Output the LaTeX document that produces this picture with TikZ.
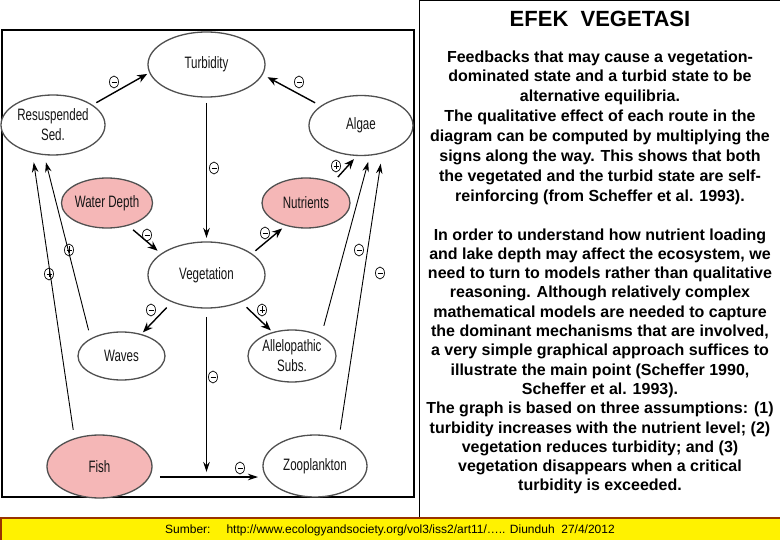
\documentclass[tikz,border=0pt]{standalone}
\usepackage{fontspec}
\setmainfont{Liberation Sans}
\newfontfamily\narrowfont[FakeStretch=0.7]{Liberation Sans}
\usetikzlibrary{shapes.geometric,arrows.meta}
\definecolor{edgegray}{RGB}{80,80,80}
\definecolor{labelgray}{RGB}{20,20,20}
\definecolor{pinkfill}{RGB}{245,183,183}
\definecolor{barbrown}{RGB}{153,51,0}
\tikzset{
  ell/.style={ellipse, draw=edgegray, line width=1.3, fill=white, inner sep=0pt, outer sep=0pt,
    font=\narrowfont\fontsize{16.5}{20}\selectfont, text=labelgray, align=center},
  pinkell/.style={ell, fill=pinkfill},
  arr/.style={-{Stealth[length=10pt,width=8pt]}, line width=1.4},
  thinarr/.style={-{Stealth[length=10pt,width=6.5pt]}, line width=0.9},
  sg/.style={ellipse, draw, line width=0.7, minimum width=9, minimum height=12, inner sep=0pt},
  minus/.style={sg, path picture={\draw[line width=0.9] ([xshift=2pt]path picture bounding box.west) -- ([xshift=-2pt]path picture bounding box.east);}},
  plus/.style={sg, path picture={\draw[line width=0.9] ([xshift=2pt]path picture bounding box.west) -- ([xshift=-2pt]path picture bounding box.east);
     \draw[line width=0.9] ([yshift=-2.5pt]path picture bounding box.north) -- ([yshift=2.5pt]path picture bounding box.south);}},
  para/.style={align=center, inner sep=0pt, font=\bfseries\fontsize{16}{19.6}\selectfont}
}
\begin{document}
\begin{tikzpicture}[x=1pt,y=-1pt]
\useasboundingbox (0,0) rectangle (780,540);
\fill[white] (0,0) rectangle (780,540);

% frames
\draw[line width=1.5] (2,30) rectangle (414,497);
\draw[line width=1.2] (419.5,518) -- (419.5,0.8) -- (781,0.8);
\draw[draw=barbrown, line width=1.6, fill=yellow] (0.8,518) rectangle (782,542);

% diagram nodes
\node[ell, minimum width=117, minimum height=65] (turb) at (206.5,64.5) {Turbidity};
\node[ell, minimum width=104, minimum height=60] (resus) at (53,125) {Resuspended\\Sed.};
\node[ell, minimum width=104, minimum height=60] (algae) at (361,125.5) {Algae};
\node[pinkell, minimum width=88, minimum height=50] (wd) at (107,203) {Water Depth};
\node[pinkell, minimum width=88, minimum height=50] (nut) at (306,203) {Nutrients};
\node[ell, minimum width=117, minimum height=66] (veg) at (206.5,275) {Vegetation};
\node[ell, minimum width=87, minimum height=48] (waves) at (121.5,356) {Waves};
\node[ell, minimum width=88, minimum height=52] (allelo) at (292,356) {Allelopathic\\Subs.};
\node[pinkell, minimum width=105, minimum height=63] (fish) at (99.5,466.5) {Fish};
\node[ell, minimum width=104, minimum height=62] (zoo) at (315,466) {Zooplankton};

% connectors
\draw[arr, shorten <=5pt, shorten >=3pt] (resus.27) -- (turb.188);
\draw[arr, shorten <=7pt, shorten >=6pt] (algae.154) -- (turb.-10);
\draw[thinarr, line width=1.1, shorten <=6pt, shorten >=4pt] (turb.south) -- (veg.north);
\draw[arr, shorten <=7pt, shorten >=5pt] (wd.-47) -- (veg.155);
\draw[arr, shorten <=5pt, shorten >=5pt] (veg.25) -- (nut.228);
\draw[arr, shorten <=8pt, shorten >=5pt] (nut.37) -- (algae.263);
\draw[arr, shorten <=8pt, shorten >=3pt] (veg.218) -- (waves.48);
\draw[arr, shorten <=8pt, shorten >=3pt] (veg.-38) -- (allelo.129);
\draw[thinarr, line width=1.1, shorten <=9pt, shorten >=5pt] (veg.south) -- (veg.south |- fish.-12);
\draw[thinarr, line width=1.2, shorten <=11pt, shorten >=5pt] (fish.-12) -- (fish.-12 -| zoo.west);
\draw[thinarr, shorten <=9pt, shorten >=10pt] (fish.132) -- (resus.233);
\draw[thinarr, shorten <=9pt, shorten >=8pt] (waves.151) -- (resus.253);
\draw[thinarr, shorten <=11pt, shorten >=7pt] (allelo.34) -- (algae.287);
\draw[thinarr, shorten <=9pt, shorten >=11pt] (zoo.49) -- (algae.308);

% signs
\node[minus] (s1) at (114,82) {};
\node[minus] (s2) at (299,82) {};
\node[minus] (s3) at (214,168) {};
\node[minus] (s4) at (147,235) {};
\node[minus] (s5) at (265,233) {};
\node[plus] (s6) at (336,166) {};
\node[minus] (s7) at (151,310) {};
\node[plus] (s8) at (262,310) {};
\node[minus] (s9) at (213,377) {};
\node[minus] (s10) at (240,468) {};
\node[plus] (s11) at (49,274) {};
\node[plus] (s12) at (69,250) {};
\node[minus] (s13) at (359,250) {};
\node[minus] (s14) at (380,273) {};

% right panel text
\node[anchor=base, inner sep=0pt, font=\bfseries\fontsize{22}{26}\selectfont] (title) at (600,27) {EFEK~~VEGETASI};
\node[para, anchor=north, font=\bfseries\fontsize{16}{19.9}\selectfont] (p1) at (600,50.3) {Feedbacks that may cause a vegetation-\\
dominated state and a turbid state to be\\
alternative equilibria.\\
The qualitative effect of each route in the\\
diagram can be computed by multiplying the\\
signs along the way. This shows that both\\
the vegetated and the turbid state are self-\\
reinforcing (from Scheffer et al. 1993).};
\node[para, anchor=north, font=\bfseries\fontsize{16}{19.3}\selectfont] (p2) at (600,228.3) {In order to understand how nutrient loading\\
and lake depth may affect the ecosystem, we\\
need to turn to models rather than qualitative\\
reasoning. Although relatively complex\\
mathematical models are needed to capture\\
the dominant mechanisms that are involved,\\
a very simple graphical approach suffices to\\
illustrate the main point (Scheffer 1990,\\
Scheffer et al. 1993).\\
The graph is based on three assumptions: (1)\\
turbidity increases with the nutrient level; (2)\\
vegetation reduces turbidity; and (3)\\
vegetation disappears when a critical\\
turbidity is exceeded.};

% source bar
\node[anchor=base west, inner sep=0pt, font=\fontsize{12}{14}\selectfont] (src) at (165,533)
  {Sumber:\hspace{16pt}http://www.ecologyandsociety.org/vol3/iss2/art11/….. Diunduh~~27/4/2012};
\end{tikzpicture}
\end{document}
